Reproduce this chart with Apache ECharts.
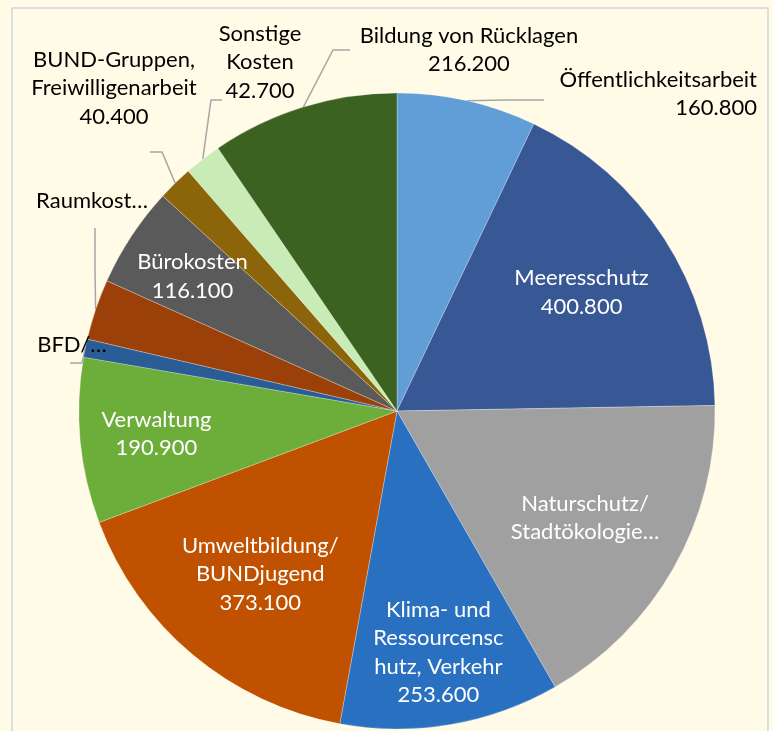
<!DOCTYPE html>
<html>
<head>
<meta charset="utf-8">
<script src="https://cdn.jsdelivr.net/npm/echarts@6/dist/echarts.min.js"></script>
<style>
  html, body { margin: 0; padding: 0; background: #FFFBE6; }
  #chart { width: 773px; height: 731px; }
</style>
</head>
<body>
<div id="chart"></div>
<script>
// Kategorien, wie sie im Diagramm (umgebrochen / abgeschnitten) stehen
const categories = [
  'Öffentlichkeitsarbeit',
  'Meeresschutz',
  'Naturschutz/\nStadtökologie…',
  'Klima- und\nRessourcensc\nhutz, Verkehr',
  'Umweltbildung/\nBUNDjugend',
  'Verwaltung',
  'BFD/…',
  'Raumkost…',
  'Bürokosten',
  'BUND-Gruppen,\nFreiwilligenarbeit',
  'Sonstige\nKosten',
  'Bildung von Rücklagen'
]
// Beträge in Euro (abgeschnittene Beschriftungen: Werte aus den Winkeln geschätzt)
const values = [160800, 400800, 386000, 253600, 373100, 190900, 21000, 70000, 116100, 40400, 42700, 216200]
// ob der Wert in der Beschriftung steht
const showValue = [true, true, false, true, true, true, false, false, true, true, true, true]
const colors = [
  '#619DD6', '#385795', '#A0A0A0', '#2A70C0', '#BF5100', '#6DAD3A',
  '#2A5C96', '#9A4008', '#5A5A5A', '#8C650A', '#C9EBB5', '#3B6220'
]

const CX = 397
const CY = 411
const R = 318

// Beschriftungen innen: Abstand vom Mittelpunkt als Anteil des Radius
const insideFrac = { 1: 0.69, 2: 0.68, 3: 0.77, 4: 0.67, 5: 0.76, 8: 0.77 }
// Beschriftungen außen: Lage des Textes und Knickpunkte der Führungslinie
const outsideSpots = {
  0: { x: 757, y: 94, align: 'right', line: [[505, 100], [544, 100]] },
  6: { x: 72, y: 345, align: 'center', line: [[82, 363], [70, 363]] },
  7: { x: 92, y: 201, align: 'center', line: [[95, 270], [95, 228]] },
  9: { x: 114, y: 88, align: 'center', line: [[162, 152], [150, 152]] },
  10: { x: 260, y: 62, align: 'center', line: [[211, 100], [222, 100]] },
  11: { x: 469, y: 50, align: 'center', line: [[333, 50], [350, 50]] }
}

const fmt = v => v.toLocaleString('de-DE')

const chart = echarts.init(document.getElementById('chart'))

const pieData = categories.map((name, i) => {
  const inside = insideFrac[i] !== undefined
  return {
    name: name,
    value: values[i],
    itemStyle: { color: colors[i] },
    label: inside
      ? { position: 'inside', color: '#ffffff' }
      : { position: 'outside', color: '#000000' },
    labelLine: { show: !inside }
  }
})

const option = {
  backgroundColor: '#FFFBE6',
  animation: false,
  graphic: [
    {
      type: 'rect',
      shape: { x: 12, y: 8, width: 756, height: 760 },
      style: { fill: 'none', stroke: '#CDD5E0', lineWidth: 1.5 },
      silent: true
    }
  ],
  series: [
    {
      type: 'pie',
      center: [CX, CY],
      radius: [0, R],
      startAngle: 90,
      clockwise: true,
      avoidLabelOverlap: false,
      data: pieData,
      itemStyle: { borderColor: 'rgba(255,255,255,0.45)', borderWidth: 0.6 },
      label: {
        fontFamily: 'Lato',
        fontSize: 22,
        lineHeight: 28.5,
        formatter: p => {
          const i = p.dataIndex
          return showValue[i] ? p.name + '\n' + fmt(p.value) : p.name
        }
      },
      labelLine: {
        length: 20,
        length2: 10,
        lineStyle: { color: '#A6A6A6', width: 1.5 }
      },
      labelLayout: params => {
        const i = params.dataIndex
        if (insideFrac[i] !== undefined) {
          const lr = params.labelRect
          const lx = lr.x + lr.width / 2
          const ly = lr.y + lr.height / 2
          const d = Math.hypot(lx - CX, ly - CY)
          const k = (insideFrac[i] * R) / d
          return {
            x: CX + (lx - CX) * k,
            y: CY + (ly - CY) * k,
            align: 'center',
            verticalAlign: 'middle'
          }
        }
        const spot = outsideSpots[i]
        const start = params.labelLinePoints ? params.labelLinePoints[0] : [CX, CY - R]
        return {
          x: spot.x,
          y: spot.y,
          align: spot.align,
          verticalAlign: 'middle',
          labelLinePoints: [start, spot.line[0], spot.line[1]]
        }
      }
    }
  ]
}

chart.setOption(option)
</script>
</body>
</html>
